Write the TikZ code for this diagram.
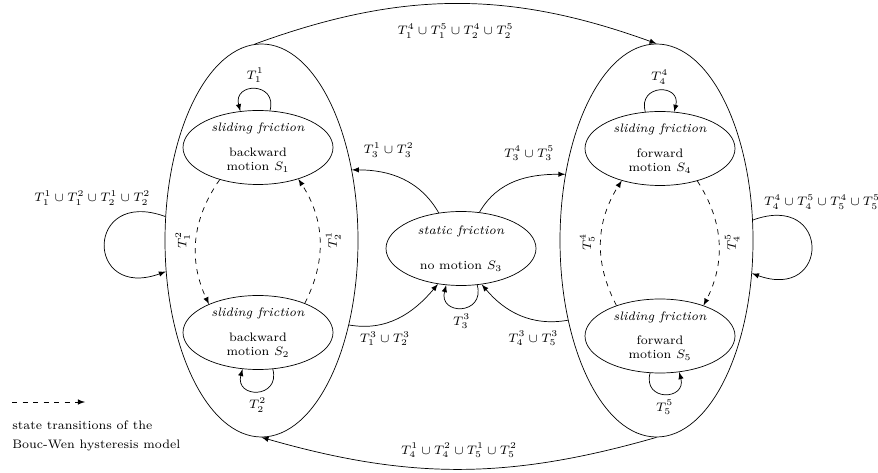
\documentclass[tikz,border=0pt]{standalone}
\usepackage{amsmath, amssymb}
\usepackage{tikz}
\usetikzlibrary{shapes.geometric}

\tikzset{
    regime/.style={draw, ellipse, minimum width=3.86cm, minimum height=7.86cm, inner sep=0pt},
    phase/.style={draw, ellipse, minimum width=3cm, minimum height=1.48cm, inner sep=0pt, align=center},
    trans/.style={->, dashed},
}

\begin{document}
\begin{tikzpicture}[>=latex, font=\scriptsize]
    \useasboundingbox (0,0) rectangle (17.56,9.44);

    % Draw the regimes
    \node[regime] (L) at (5.23,4.63) {};
    \node[regime] (R) at (13.13,4.63) {};

    % Draw the states
    \node[phase] (S1) at (5.16,6.49) {\textit{sliding friction}\\[6pt] backward\\ motion $S_1$};
    \node[phase] (S2) at (5.16,2.79) {\textit{sliding friction}\\[6pt] backward\\ motion $S_2$};
    \node[phase] (S3) at (9.22,4.47) {\textit{static friction}\\[12pt] no motion $S_3$};
    \node[phase] (S4) at (13.2,6.47) {\textit{sliding friction}\\[6pt] forward\\ motion $S_4$};
    \node[phase] (S5) at (13.2,2.72) {\textit{sliding friction}\\[6pt] forward\\ motion $S_5$};

    % Draw the self loops
    \draw[->] (S1.72) to[out=75,in=105,looseness=2.6] node[above] {$T_1^1$} (S1.116);
    \draw[->] (S2.292) to[out=-75,in=-105,looseness=2.6] node[below] {$T_2^2$} (S2.247);
    \draw[->] (S3.294) to[out=-75,in=-105,looseness=2.6] node[below] {$T_3^3$} (S3.248);
    \draw[->] (S4.112) to[out=105,in=75,looseness=2.6] node[above] {$T_4^4$} (S4.69);
    \draw[->] (S5.255) to[out=-105,in=-75,looseness=2.6] node[below] {$T_5^5$} (S5.298);

    % Draw the sliding transitions
    \draw[trans] (S1.220) to[bend right=30] node[midway, rotate=90, anchor=south] {$T_1^2$} (S2.150);
    \draw[trans] (S2.32) to[bend right=30] node[midway, rotate=90, anchor=north] {$T_2^1$} (S1.322);
    \draw[trans] (S5.145) to[bend left=30] node[midway, rotate=90, anchor=south] {$T_5^4$} (S4.220);
    \draw[trans] (S4.319) to[bend left=30] node[midway, rotate=90, anchor=north] {$T_4^5$} (S5.35);

    % Draw the regime loops
    \draw[->] (L.166) to[out=160,in=200,looseness=4] node[pos=0.1, above left, xshift=0.26cm] {$T_1^1\cup T_1^2\cup T_2^1\cup T_2^2$} (L.198);
    \draw[->] (R.12) to[out=20,in=-20,looseness=4] node[pos=0.1, above right, xshift=-0.32cm] {$T_4^4\cup T_4^5\cup T_5^4\cup T_5^5$} (R.341);

    % Draw the transitions through static friction
    \draw[->] (S3.122) to[out=120,in=0] node[pos=0.65, above=6pt] {$T_3^1\cup T_3^2$} (L.38);
    \draw[->] (S3.63) to[out=60,in=180] node[pos=0.65, above=6pt] {$T_3^4\cup T_3^5$} (R.144);
    \draw[->] (L.316) to[out=-10,in=230] node[pos=0.35, below=1pt] {$T_1^3\cup T_2^3$} (S3.237);
    \draw[->] (R.222) to[out=190,in=310] node[pos=0.35, below=3pt] {$T_4^3\cup T_5^3$} (S3.300);

    % Draw the switches between regimes
    \draw[->] (L.92) to[bend left=20] node[midway, below=8pt] {$T_1^4\cup T_1^5\cup T_2^4\cup T_2^5$} (R.north);
    \draw[->] (R.south) to[bend left=16] node[midway, above=3pt] {$T_4^1\cup T_4^2\cup T_5^1\cup T_5^2$} (L.south);

    % Draw the legend
    \coordinate (legA) at (0.24,1.4);
    \coordinate (legB) at (1.7,1.4);
    \draw[trans] (legA) -- (legB);
    \node[anchor=north west, align=left, inner sep=0pt] (legend) at (0.24,1.03) {state transitions of the\\[3pt] Bouc-Wen hysteresis model};
\end{tikzpicture}
\end{document}
